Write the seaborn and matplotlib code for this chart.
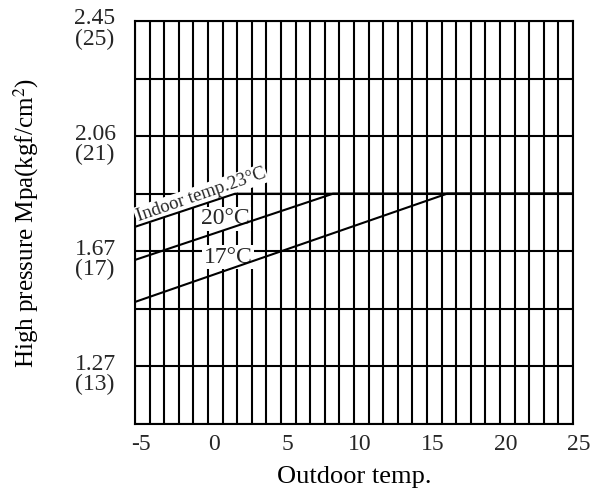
import numpy as np
import pandas as pd
import matplotlib
matplotlib.use("Agg")
import matplotlib.pyplot as plt
import matplotlib.transforms as mtransforms
import seaborn as sns

# ---- data (x: outdoor temp °C, y: pressure kgf/cm2) ----
outdoor_23 = [-5, 1.85, 25]
press_23 = [17.85, 19.0, 19.0]
outdoor_20 = [-5, 8.56, 25]
press_20 = [16.70, 19.0, 19.0]
outdoor_17 = [-5, 16.37, 25]
press_17 = [15.24, 19.0, 19.0]

x_ticks = [-5, 0, 5, 10, 15, 20, 25]
y_ticks = [13, 17, 21, 25]
y_tick_labels = ["1.27\n(13)", "1.67\n(17)", "2.06\n(21)", "2.45\n(25)"]

df = pd.concat([
    pd.DataFrame({"outdoor": outdoor_23, "pressure": press_23, "indoor": "23"}),
    pd.DataFrame({"outdoor": outdoor_20, "pressure": press_20, "indoor": "20"}),
    pd.DataFrame({"outdoor": outdoor_17, "pressure": press_17, "indoor": "17"}),
])

sns.set_theme(style="white")
plt.rcParams["font.family"] = ["Liberation Serif", "DejaVu Serif"]
plt.rcParams["mathtext.fontset"] = "stix"

fig = plt.figure(figsize=(5.98, 4.92), dpi=100)
ax = fig.add_axes([135 / 598, 1 - 424 / 492, 438 / 598, 403 / 492])

sns.lineplot(data=df, x="outdoor", y="pressure", units="indoor", estimator=None,
             color="black", linewidth=1.5, ax=ax, zorder=4, legend=False)

ax.set_xlim(-5, 25)
ax.set_ylim(11, 25)

# grid: every 1 °C and every 2 kgf/cm2
ax.set_xticks(np.arange(-5, 26, 1))
ax.set_xticklabels([str(v) if v in x_ticks else "" for v in range(-5, 26)], fontsize=17)
ax.set_yticks(np.arange(11, 26, 2))
ax.set_yticklabels([y_tick_labels[y_ticks.index(v)] if v in y_ticks else ""
                    for v in range(11, 26, 2)], fontsize=17, linespacing=0.95,
                   multialignment="center")
ax.grid(True, color="black", linewidth=1.5, zorder=1)
ax.set_axisbelow(True)
ax.tick_params(axis="both", length=0)
ax.tick_params(axis="x", pad=7)
ax.tick_params(axis="y", pad=14)
for s in ax.spines.values():
    s.set_color("black")
    s.set_linewidth(1.5)

# small offsets like the reference
offx = mtransforms.ScaledTranslation(6 / 100, 0, fig.dpi_scale_trans)
for lab in ax.get_xticklabels():
    lab.set_transform(lab.get_transform() + offx)
offy = mtransforms.ScaledTranslation(0, -6 / 100, fig.dpi_scale_trans)
for lab in ax.get_yticklabels():
    lab.set_transform(lab.get_transform() + offy)

ax.set_xlabel("Outdoor temp.", fontsize=19, labelpad=8, color="black")
ax.set_ylabel("High pressure Mpa(kgf/cm$^2$)", fontsize=18, labelpad=24, color="black")

box = dict(facecolor="white", edgecolor="none", pad=1)
ax.text(-0.48, 18.96, "Indoor temp.23°C", rotation=19, rotation_mode="anchor",
        ha="center", va="center", fontsize=13.5, bbox=box, zorder=3)
ax.text(1.16, 18.13, "20°C", ha="center", va="center", fontsize=17, bbox=box, zorder=3)
ax.text(1.37, 16.8, "17°C", ha="center", va="center", fontsize=17, bbox=box, zorder=3)

fig.savefig("out.png", dpi=100)
